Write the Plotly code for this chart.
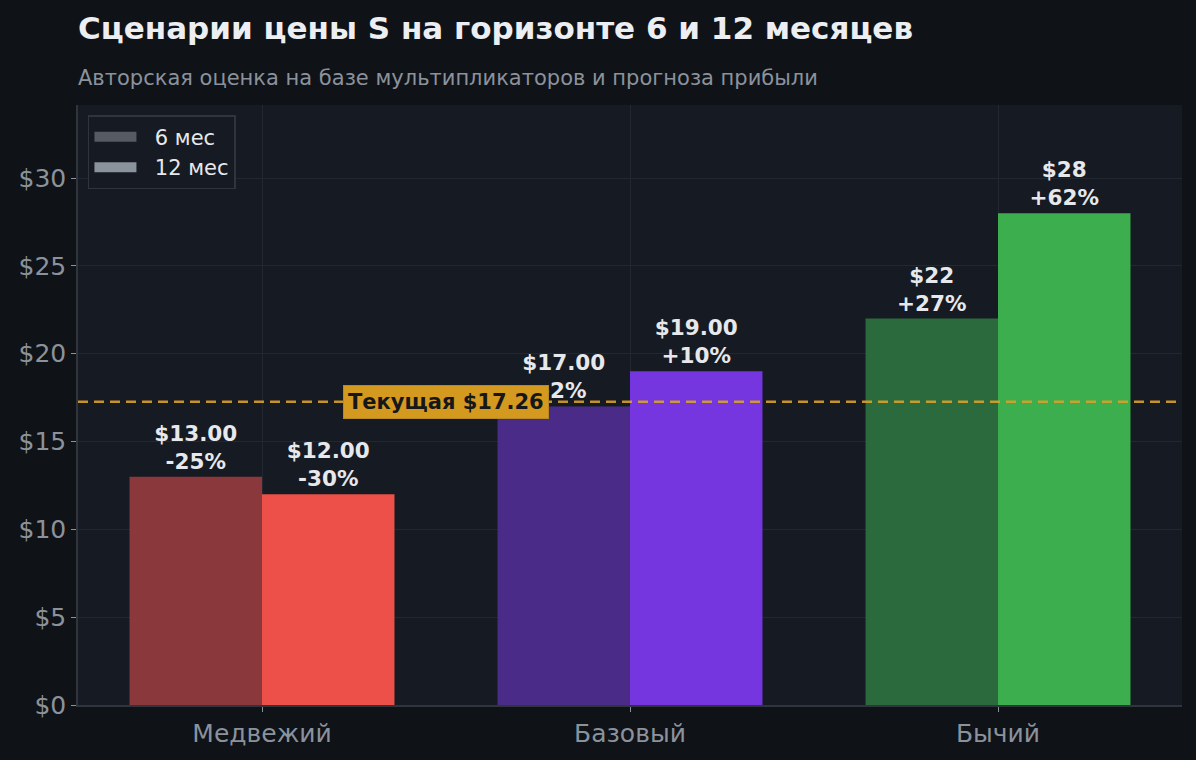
import plotly.graph_objects as go

# данные сценариев
scenarios = ["Медвежий", "Базовый", "Бычий"]
price_6m = [13, 17, 22]
price_12m = [12, 19, 28]
labels_6m = ["$13.00<br>-25%", "$17.00<br>-2%", "$22<br>+27%"]
labels_12m = ["$12.00<br>-30%", "$19.00<br>+10%", "$28<br>+62%"]
colors_6m = ["#8a383b", "#4a2c88", "#2b6a3c"]
colors_12m = ["#ec5049", "#7636df", "#3dae4e"]
current_price = 17.26

bg = "#0f1317"
plot_bg = "#161a22"
grid = "#23272f"
tick_col = "#8b929c"
text_col = "#e6e8ec"
font = "DejaVu Sans"
bar_w = 0.36
pad = "\u00a0\u00a0"

fig = go.Figure()

fig.add_trace(go.Bar(
    x=scenarios, y=price_6m, name="6 мес",
    width=bar_w, offset=-bar_w,
    marker=dict(color=colors_6m, line=dict(width=0)),
    text=labels_6m, textposition="outside", cliponaxis=False,
    constraintext="none",
    textfont=dict(family=font, size=21.5, color=text_col, weight="bold"),
    showlegend=False,
))
fig.add_trace(go.Bar(
    x=scenarios, y=price_12m, name="12 мес",
    width=bar_w, offset=0,
    marker=dict(color=colors_12m, line=dict(width=0)),
    text=labels_12m, textposition="outside", cliponaxis=False,
    constraintext="none",
    textfont=dict(family=font, size=21.5, color=text_col, weight="bold"),
    showlegend=False,
))

# легенда серыми образцами, как в оригинале
fig.add_trace(go.Scatter(x=[None], y=[None], name=pad + "6 мес", mode="lines",
                         line=dict(color="#555a63", width=15)))
fig.add_trace(go.Scatter(x=[None], y=[None], name=pad + "12 мес", mode="lines",
                         line=dict(color="#8a929c", width=15)))

fig.add_shape(
    type="line", xref="paper", x0=0, x1=1, yref="y", y0=current_price, y1=current_price,
    line=dict(color="rgba(216,162,42,0.9)", width=2.5, dash="10px,6px"), layer="above",
)
fig.add_annotation(
    x=0.5, y=current_price, xref="x", yref="y",
    text=f"Текущая ${current_price:.2f}", showarrow=False,
    font=dict(family=font, size=21, color="#15171b", weight="bold"),
    bgcolor="#d4991f", bordercolor="#b88a25", borderwidth=1, borderpad=4,
)

fig.add_annotation(
    xref="paper", yref="paper", x=0, y=1.128, xanchor="left", yanchor="middle",
    xshift=-2,
    text="<b>Сценарии цены S на горизонте 6 и 12 месяцев</b>", showarrow=False,
    font=dict(family=font, size=31, color="#eceef2"),
)
fig.add_annotation(
    xref="paper", yref="paper", x=0, y=1.045, xanchor="left", yanchor="middle",
    xshift=-2,
    text="Авторская оценка на базе мультипликаторов и прогноза прибыли", showarrow=False,
    font=dict(family=font, size=21, color=tick_col),
)

fig.update_layout(
    width=1196, height=760,
    margin=dict(l=78, r=14, t=105, b=55),
    paper_bgcolor=bg, plot_bgcolor=plot_bg,
    barmode="overlay",
    font=dict(family=font, color=tick_col),
    legend=dict(
        x=0.009, y=0.983, xanchor="left", yanchor="top",
        bgcolor=plot_bg, bordercolor="#30343c", borderwidth=1.5,
        font=dict(family=font, size=21, color=text_col),
        itemwidth=42, tracegroupgap=4,
    ),
)
fig.update_xaxes(
    showgrid=True, gridcolor=grid, gridwidth=1,
    showline=True, linecolor="#30343c", linewidth=1.5,
    ticks="outside", ticklen=5, tickcolor=tick_col,
    tickfont=dict(family=font, size=25, color=tick_col),
    range=[-0.5, 2.5],
)
fig.update_yaxes(
    range=[0, 34.16], dtick=5, tickprefix="$",
    showgrid=True, gridcolor=grid, gridwidth=1,
    showline=True, linecolor="#30343c", linewidth=1.5,
    ticks="outside", ticklen=5, tickcolor=tick_col,
    tickfont=dict(family=font, size=25, color=tick_col),
    zeroline=False,
)

fig.write_html(
    "out.html",
    config={"displayModeBar": False},
    post_script="document.body.style.margin='0';document.body.style.overflow='hidden';",
)
